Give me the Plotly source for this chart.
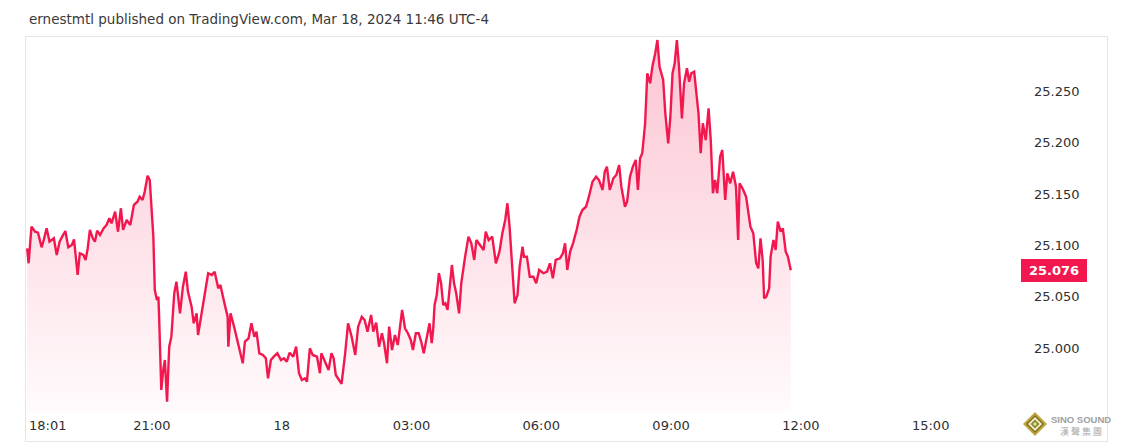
import plotly.graph_objects as go
from datetime import datetime

# ---------------- data ----------------
times = [
    "18:07","18:09","18:13","18:18","18:22","18:27","18:30","18:34","18:38","18:41",
    "18:44","18:48","18:52","18:56","19:00","19:04","19:09","19:12","19:17","19:20",
    "19:25","19:28","19:31","19:34","19:38","19:41","19:44","19:48","19:53","19:57",
    "20:01","20:04","20:09","20:13","20:17","20:20","20:25","20:30","20:35","20:40",
    "20:43","20:47","20:50","20:54","20:57","21:02","21:04","21:07","21:09","21:10",
    "21:13","21:16","21:18","21:21","21:24","21:27","21:31","21:34","21:39","21:43",
    "21:47","21:50","21:55","21:58","22:02","22:04","22:09","22:14","22:18","22:23",
    "22:27","22:32","22:35","22:39","22:45","22:46","22:49","22:54","23:00","23:03",
    "23:06","23:09","23:14","23:18","23:22","23:25","23:29","23:34","23:38","23:41",
    "23:45","23:49","23:54","23:59","00:03","00:07","00:11",
    "00:16","00:20","00:24","00:28","00:32","00:35","00:39","00:43","00:49","00:53",
    "00:55","01:00","01:05","01:09","01:12","01:15","01:20","01:23","01:28","01:32",
    "01:37","01:42","01:46","01:51","01:55","01:59","02:04","02:07","02:11","02:15",
    "02:19","02:22","02:26","02:29","02:33","02:37","02:41","02:44","02:47","02:51",
    "02:55","02:59","03:02","03:06","03:10","03:14","03:17","03:21","03:25","03:28",
    "03:30","03:32","03:35","03:38","03:41","03:44","03:47","03:50","03:53","03:56",
    "03:59","04:02","04:06","04:09","04:14","04:19","04:23","04:27","04:30","04:35",
    "04:40","04:43","04:47","04:52","04:57","05:02","05:06","05:10","05:13","05:16",
    "05:20","05:23","05:27","05:30","05:34","05:36","05:40","05:44","05:49","05:53",
    "05:57","06:03","06:08","06:12","06:16","06:20","06:26","06:30","06:33","06:36",
    "06:40","06:44","06:49","06:53","06:57","07:02","07:06","07:11","07:16","07:20",
    "07:25","07:28","07:31","07:35","07:40","07:44","07:48","07:51","07:56","07:59",
    "08:03","08:07","08:11","08:14","08:17","08:20","08:24","08:27","08:31","08:34",
    "08:38","08:41","08:44","08:49","08:52","08:56","08:59","09:02","09:05","09:08",
    "09:11","09:15","09:18","09:22","09:25","09:28","09:32","09:34","09:38","09:41",
    "09:44","09:48","09:52","09:55","09:58","10:01","10:04","10:08","10:11","10:15",
    "10:18","10:22","10:26","10:30","10:33","10:35","10:39","10:44","10:47","10:50",
    "10:54","10:58","11:01","11:04","11:07","11:09","11:12","11:16","11:18","11:22",
    "11:25","11:28","11:32","11:35","11:39","11:42","11:46",
]

prices = [
    25.0973, 25.0827, 25.1183, 25.1134, 25.1125, 25.0982, 25.1053, 25.1167, 25.1037, 25.1053,
    25.1070, 25.0908, 25.1037, 25.1092, 25.1141, 25.0982, 25.1005, 25.1060, 25.0713, 25.0924,
    25.0908, 25.0859, 25.0973, 25.1151, 25.1070, 25.1037, 25.1144, 25.1102, 25.1167, 25.1199,
    25.1265, 25.1216, 25.1329, 25.1134, 25.1362, 25.1151, 25.1248, 25.1199, 25.1394, 25.1426,
    25.1475, 25.1443, 25.1523, 25.1679, 25.1637, 25.1086, 25.0567, 25.0470, 25.0502, 25.0307,
    24.9594, 24.9805, 24.9886, 24.9481, 25.0016, 25.0113, 25.0535, 25.0648, 25.0340, 25.0599,
    25.0745, 25.0551, 25.0405, 25.0243, 25.0340, 25.0129, 25.0340, 25.0535, 25.0730, 25.0713,
    25.0745, 25.0584, 25.0616, 25.0486, 25.0307, 25.0016, 25.0340, 25.0210, 25.0016, 24.9951,
    24.9854, 25.0064, 25.0097, 25.0243, 25.0113, 25.0161, 24.9951, 24.9935, 24.9903, 24.9708,
    24.9886, 24.9918, 24.9951, 24.9886, 24.9903, 24.9870, 24.9957,
    24.9918, 25.0016, 24.9757, 24.9692, 24.9708, 24.9675, 25.0000, 24.9935, 24.9918, 24.9757,
    24.9951, 24.9870, 24.9789, 24.9951, 24.9903, 24.9740, 24.9692, 24.9653, 24.9951, 25.0243,
    25.0113, 24.9935, 25.0210, 25.0307, 25.0275, 25.0161, 25.0324, 25.0161, 25.0249, 25.0016,
    25.0146, 25.0049, 24.9854, 25.0210, 24.9983, 25.0129, 25.0032, 25.0178, 25.0373, 25.0195,
    25.0146, 25.0081, 24.9983, 25.0146, 25.0146, 25.0049, 24.9951, 25.0097, 25.0243, 25.0049,
    25.0178, 25.0421, 25.0518, 25.0730, 25.0632, 25.0421, 25.0438, 25.0373, 25.0567, 25.0810,
    25.0632, 25.0535, 25.0340, 25.0632, 25.0875, 25.1086, 25.1021, 25.0859, 25.1053, 25.1005,
    25.0956, 25.1134, 25.1053, 25.1086, 25.0827, 25.0940, 25.1119, 25.1248, 25.1411, 25.1183,
    25.0762, 25.0438, 25.0518, 25.0794, 25.0988, 25.0891, 25.0891, 25.0696, 25.0696, 25.0632,
    25.0762, 25.0730, 25.0745, 25.0827, 25.0681, 25.0859, 25.0875, 25.0924, 25.1021, 25.0762,
    25.0940, 25.1021, 25.1151, 25.1280, 25.1345, 25.1377, 25.1475, 25.1621, 25.1669, 25.1637,
    25.1540, 25.1718, 25.1767, 25.1540, 25.1654, 25.1686, 25.1783, 25.1572, 25.1377, 25.1426,
    25.1669, 25.1767, 25.1832, 25.1540, 25.1848, 25.1897, 25.2189, 25.2675, 25.2578, 25.2739,
    25.2870, 25.2999, 25.2739, 25.2610, 25.2286, 25.1994, 25.2253, 25.2675, 25.2772, 25.2999,
    25.2739, 25.2237, 25.2578, 25.2724, 25.2593, 25.2675, 25.2691, 25.2545, 25.2286, 25.1897,
    25.2189, 25.2026, 25.2335, 25.2026, 25.1508, 25.1637, 25.1508, 25.1864, 25.1929, 25.1443,
    25.1702, 25.1605, 25.1718, 25.1572, 25.1053, 25.1605, 25.1556, 25.1475, 25.1345, 25.1183,
    25.1119, 25.0827, 25.0778, 25.1070, 25.0859, 25.0486, 25.0502, 25.0584, 25.0891, 25.1053,
    25.0956, 25.1232, 25.1134, 25.1167, 25.0940, 25.0891, 25.0760,
]

last_price = 25.076
price_ticks = [25.000, 25.050, 25.100, 25.150, 25.200, 25.250]
time_tick_values = ["2024-03-17 21:00", "2024-03-18 00:00", "2024-03-18 03:00",
                    "2024-03-18 06:00", "2024-03-18 09:00", "2024-03-18 12:00",
                    "2024-03-18 15:00"]
time_tick_labels = ["21:00", "18", "03:00", "06:00", "09:00", "12:00", "15:00"]
first_bar_label = "18:01"
title_text = "ernestmtl published on TradingView.com, Mar 18, 2024 11:46 UTC-4"

assert len(times) == len(prices)

# build timestamps (session starts 17 Mar 18:00)
x_dt = []
for t in times:
    h, m = map(int, t.split(":"))
    day = 17 if h >= 18 else 18
    x_dt.append(datetime(2024, 3, day, h, m))

# ---------------- layout geometry ----------------
# The page body has an 8px default margin, so the figure is drawn 8px
# smaller and offset; helper functions take screen (reference) pixels.
OFF = 8
W, H = 1121 - OFF, 448 - OFF
L, R, T, B = 25, 1010, 36, 412          # plot area in screen pixels
def px(xp):  # screen pixel x -> paper
    return (xp - L) / (R - L)
def py(yp):  # screen pixel y -> paper
    return (B - yp) / (B - T)

Y_MIN, Y_MAX = 24.938, 25.3038
RED = "#F2184F"
TXT = "#2f2f2f"
FONT = "DejaVu Sans"

fig = go.Figure()
fig.add_trace(go.Scatter(
    x=x_dt, y=prices, mode="lines",
    line=dict(color=RED, width=2.4),
    fill="tozeroy",
    fillgradient=dict(
        type="vertical",
        colorscale=[[0, "rgba(242,24,79,0.02)"], [1, "rgba(242,24,79,0.25)"]],
        start=Y_MIN, stop=max(prices),
    ),
    hoverinfo="skip",
    showlegend=False,
))

shapes = [
    dict(type="rect", xref="paper", yref="paper",
         x0=px(25.5), x1=px(1107.5), y0=py(441.5), y1=py(36.5),
         line=dict(color="#e3e5ea", width=1), fillcolor="rgba(0,0,0,0)", layer="below"),
]
# watermark diamond
cx, cy = px(1035), py(424)
for half, col in [(12, "#c2a53a"), (9, "#7d6f22"), (7, "#f4efd2"), (4.5, "#8c8a2c"), (2, "#e8e4a6")]:
    dx, dy = half / (R - L), half / (B - T)
    shapes.append(dict(
        type="path", xref="paper", yref="paper",
        path=f"M {cx-dx},{cy} L {cx},{cy+dy} L {cx+dx},{cy} L {cx},{cy-dy} Z",
        fillcolor=col, line=dict(width=0), layer="above"))

annotations = [
    dict(text=title_text, xref="paper", yref="paper", x=px(27), y=py(19),
         xanchor="left", yanchor="middle", showarrow=False,
         font=dict(family=FONT, size=13.5, color="#3a3a3a")),
    dict(text=first_bar_label, xref="paper", yref="paper", x=px(27), y=py(425),
         xanchor="left", yanchor="middle", showarrow=False,
         font=dict(family=FONT, size=13, color=TXT)),
    dict(text=f"<b>{last_price:.3f}</b>", xref="paper", yref="y", x=px(1054), y=last_price,
         xanchor="center", yanchor="middle", showarrow=False,
         width=58, height=15, borderpad=3, borderwidth=1, bordercolor=RED,
         bgcolor=RED, font=dict(family=FONT, size=13, color="white")),
    dict(text="<b>SINO SOUND</b>", xref="paper", yref="paper", x=px(1081), y=py(419.5),
         xanchor="center", yanchor="middle", showarrow=False,
         font=dict(family="Liberation Sans", size=9.5, color="#a0a0a0")),
    dict(text="漢 聲 集 團", xref="paper", yref="paper", x=px(1081), y=py(431),
         xanchor="center", yanchor="middle", showarrow=False,
         font=dict(family="Noto Sans CJK TC", size=9, color="#a8a8a8")),
]

fig.update_layout(
    width=W, height=H,
    margin=dict(l=L - OFF, r=(W + OFF) - R, t=T - OFF, b=(H + OFF) - B, pad=0),
    paper_bgcolor="white", plot_bgcolor="white",
    shapes=shapes, annotations=annotations,
    font=dict(family=FONT, size=13, color=TXT),
    xaxis=dict(
        type="date",
        range=["2024-03-17 18:04", "2024-03-18 16:50"],
        tickvals=time_tick_values, ticktext=time_tick_labels,
        showgrid=False, zeroline=False, showline=False, ticks="",
        ticklabelstandoff=4,
        tickfont=dict(family=FONT, size=13, color=TXT),
    ),
    yaxis=dict(
        side="right",
        range=[Y_MIN, Y_MAX],
        tickvals=price_ticks, ticktext=[f"{v:.3f}" for v in price_ticks],
        showgrid=False, zeroline=False, showline=False, ticks="",
        ticklabelstandoff=23,
        tickfont=dict(family=FONT, size=13, color=TXT),
    ),
)

fig.write_html("out.html")
